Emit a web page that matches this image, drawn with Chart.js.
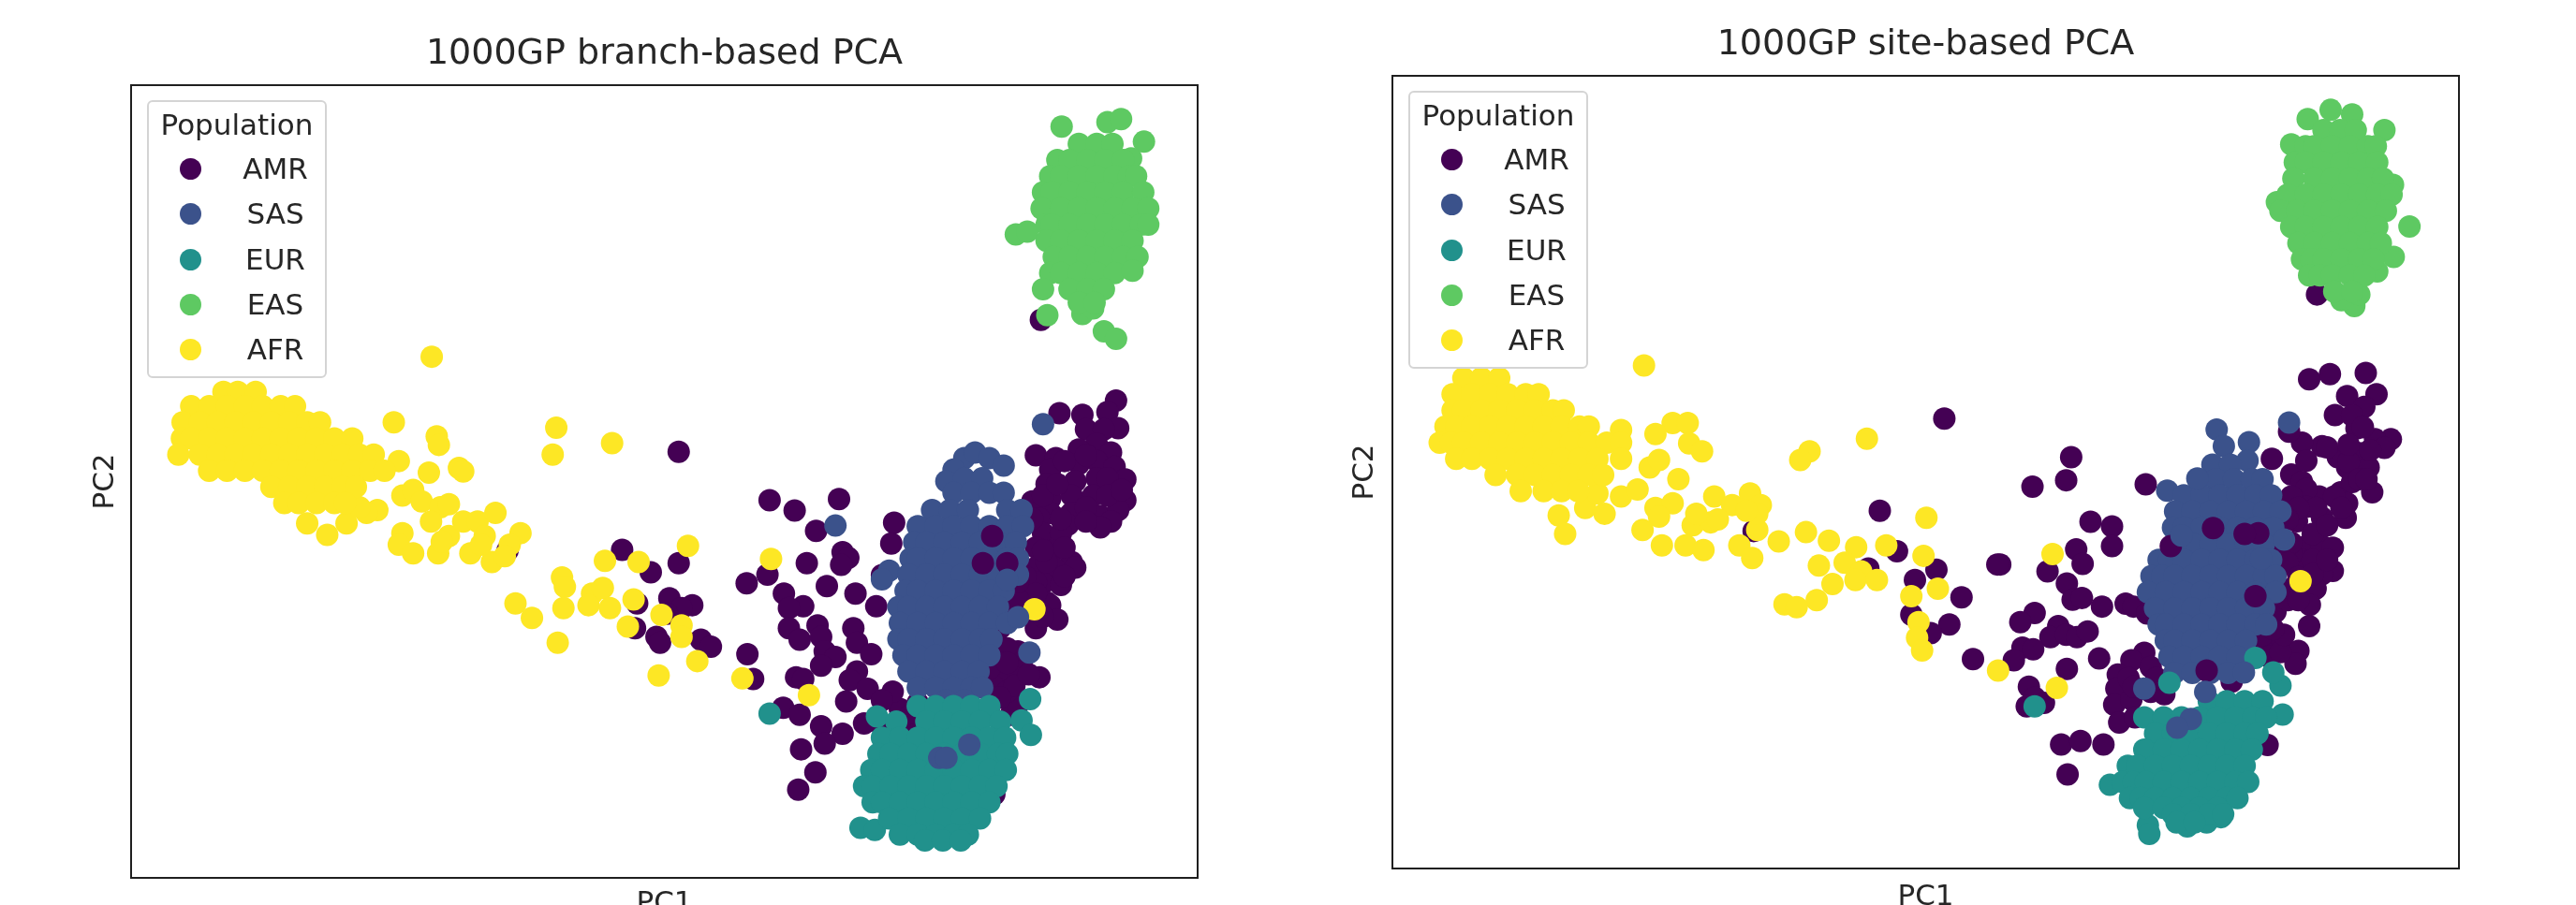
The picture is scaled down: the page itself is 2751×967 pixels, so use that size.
<!DOCTYPE html>
<html lang="en">
<head>
<meta charset="UTF-8">
<title>1000GP PCA</title>
<script src="https://cdn.jsdelivr.net/npm/chart.js"></script>
<style>
    html, body { margin: 0; background: #fff; width: 2751px; height: 967px; overflow: hidden; }
    canvas { position: absolute; top: 0; filter: blur(0.7px); }
    #chartA { left: 0; }
    #chartB { left: 1375px; }
    .legend { position: absolute; width: 188px; height: 293px; background: rgba(255,255,255,0.85);
              border: 2px solid #d4d4d4; border-radius: 6px; font-family: "DejaVu Sans", sans-serif;
              font-size: 31px; color: #262626; line-height: 36px; filter: blur(0.5px); }
    .legend div { position: absolute; white-space: nowrap; }
    .legend .name { width: 100px; left: 85px; text-align: center; }
    .legend .dot { width: 23px; height: 23px; border-radius: 50%; left: 33px; }
    .legend .head { left: 0; width: 188px; text-align: center; top: 6px; }
</style>
</head>
<body>
<canvas id="chartA" width="1419" height="967"></canvas>
<canvas id="chartB" width="1363" height="967"></canvas>
<div class="legend" id="legendA" style="left:157px;top:107px"></div>
<div class="legend" id="legendB" style="left:1504px;top:97px"></div>
<script>
const categories = ['AMR', 'SAS', 'EUR', 'EAS', 'AFR'];
const colors = ['#440154', '#3b528b', '#21918c', '#5ec962', '#fde725'];

// values, PC axes have no ticks so units are arbitrary
const branchAMR = [
  [1402,695],[1390,715],[1323,717],[1355,720],[1405,743],[1360,745],[1385,745],[1375,770],[1350,780],[1395,785],
  [1290,790],[1318,795],[1350,805],[1310,815],[1375,800],[1400,810],[1415,832],[1375,830],[1345,835],[1305,840],
  [1285,870],[1310,865],[1340,860],[1370,860],[1415,868],[1380,895],[1405,885],[1340,890],[1310,890],[1295,900],
  [1335,910],[1300,925],[1325,925],[1290,950],[1315,955],[1340,975],[1290,985],[1315,985],[1345,985],[1300,1012],
  [1325,1015],[1280,1040],[1305,1045],[1310,1050],[1265,1060],[1320,1075],[1290,1090],[1265,1130],[1250,1125],
  [1240,1150],[1270,1150],[1295,1175],[1245,1175],[1230,1190],[1265,1165],[1255,1240],[1265,1222],[1250,1200],
  [1232,1378],[1240,1090],[1230,1050],[1297,555],
  [1330,800],[1360,790],[1390,830],[1390,860],[1360,880],[1325,900],[1300,860],[1320,840],[1285,900],[1330,950],
  [1305,975],[1300,955],[1330,1000],[1290,1010],[1275,1000],[1290,1030],[1395,905],[1380,915],[1410,850],[1360,905],
  [1265,1040],[1265,1010],[1300,1070],[1225,1160],[1250,1150],[1215,1190],[1235,1210],[1260,1190],[1225,1225],
  [1240,1210],[1280,1170],[1075,1260],[1100,1230],[1100,1260],[1125,1220],[1120,1250],
  [791,784],[918,868],[1015,866],[953,886],[983,921],[1092,907],[1088,943],[1020,958],[1028,968],[1018,980],
  [970,977],[915,997],[886,1012],[1075,998],[998,1017],[938,1030],[1038,1030],[965,1052],[945,1055],[1067,1052],
  [945,1090],[985,1085],[1035,1090],[960,1110],[990,1105],[1040,1115],[1060,1135],[995,1130],[1010,1140],[990,1155],
  [1040,1165],[1030,1180],[955,1175],[965,1178],[1055,1195],[1090,1200],[1075,1215],[1025,1217],[937,1228],[960,1240],
  [990,1260],[1020,1273],[1050,1255],[995,1290],[962,1300],[982,1340],[958,1370],[1115,1240],[1120,1275],[1080,1265],
  [712,954],[791,977],[752,993],[778,1038],[810,1050],[795,1055],[775,1065],[733,1047],[730,1090],[760,1105],
  [765,1115],[822,1110],[836,1122],[887,1135],[895,1178],[552,955]
];
const branchSAS = [
  [1300,736],[1010,912],[1085,990],[1075,1005],
  [1190,795],[1205,785],[1225,795],[1245,808],[1175,815],[1165,835],[1190,830],[1215,830],
  [1175,855],[1200,855],[1225,855],[1245,855],
  [1145,885],[1170,885],[1195,885],[1250,885],[1270,885],
  [1125,913],[1150,913],[1175,913],[1200,913],[1225,913],[1250,913],[1272,913],
  [1120,941],[1137,941],[1162,941],[1187,941],[1212,941],[1237,941],[1262,941],
  [1115,969],[1125,969],[1150,969],[1175,969],[1200,969],[1225,969],[1250,969],[1265,969],
  [1112,997],[1137,997],[1162,997],[1187,997],[1212,997],[1237,997],[1265,997],
  [1108,1025],[1125,1025],[1150,1025],[1175,1025],[1200,1025],[1225,1025],[1245,1025],
  [1098,1053],[1112,1053],[1137,1053],[1162,1053],[1187,1053],[1212,1053],[1237,1053],
  [1100,1081],[1125,1081],[1150,1081],[1175,1081],[1200,1081],[1225,1081],[1250,1081],
  [1098,1109],[1112,1109],[1137,1109],[1162,1109],[1187,1109],[1212,1109],[1228,1109],
  [1105,1137],[1125,1137],[1150,1137],[1175,1137],[1200,1137],[1225,1137],
  [1112,1165],[1137,1165],[1162,1165],[1187,1165],[1210,1165],
  [1125,1193],[1150,1193],[1175,1193],[1200,1193],[1215,1193],[1165,1215],[1190,1215]
];
const branchEUR = [
  [918,1238],[1068,1243],[1282,1213],[1270,1250],[1283,1275],[1045,1436],[1065,1440],
  [1125,1225],[1150,1225],[1175,1225],[1200,1225],[1225,1225],
  [1095,1252],[1137,1252],[1162,1252],[1187,1252],[1212,1252],[1240,1252],
  [1075,1280],[1100,1280],[1125,1280],[1150,1280],[1175,1280],[1200,1280],[1225,1280],[1247,1280],
  [1070,1308],[1087,1308],[1112,1308],[1137,1308],[1162,1308],[1187,1308],[1212,1308],[1237,1308],[1250,1308],
  [1060,1336],[1075,1336],[1100,1336],[1125,1336],[1150,1336],[1175,1336],[1200,1336],[1225,1336],[1248,1336],
  [1050,1364],[1062,1364],[1087,1364],[1112,1364],[1137,1364],[1162,1364],[1187,1364],[1212,1364],[1235,1364],
  [1062,1392],[1075,1392],[1100,1392],[1125,1392],[1150,1392],[1175,1392],[1200,1392],[1225,1392],
  [1085,1420],[1112,1420],[1137,1420],[1162,1420],[1187,1420],[1212,1420],
  [1100,1448],[1125,1448],[1150,1448],[1175,1448],[1195,1448],[1135,1458],[1160,1458],[1185,1458]
];
const branchEAS = [
  [1326,220],[1390,212],[1409,207],[1441,246],[1423,275],[1262,407],[1278,402],[1306,547],[1355,545],[1385,575],
  [1402,588],[1370,535],
  [1350,250],[1375,250],[1397,250],
  [1320,278],[1337,278],[1362,278],[1387,278],[1412,278],
  [1310,306],[1325,306],[1350,306],[1375,306],[1400,306],[1420,306],[1430,306],
  [1300,334],[1312,334],[1337,334],[1362,334],[1387,334],[1412,334],[1440,334],
  [1298,362],[1325,362],[1350,362],[1375,362],[1400,362],[1425,362],[1447,362],
  [1305,390],[1312,390],[1337,390],[1362,390],[1387,390],[1412,390],[1437,390],[1447,390],
  [1305,418],[1325,418],[1350,418],[1375,418],[1400,418],[1425,418],
  [1315,446],[1337,446],[1362,446],[1387,446],[1412,446],[1432,446],
  [1310,474],[1325,474],[1350,474],[1375,474],[1400,474],[1425,470],
  [1300,502],[1337,502],[1362,502],[1385,502],
  [1350,525],[1372,525]
];
const branchAFR = [
  [446,619],[393,733],[453,757],[456,772],[620,742],[698,769],[615,789],[442,820],[484,812],[490,818],
  [400,800],[370,885],[355,890],[405,860],[420,850],[432,870],[405,925],[400,945],[420,960],[458,880],
  [470,875],[445,905],[470,930],[455,960],[460,940],[490,905],[510,905],[535,890],[570,925],[555,945],
  [520,930],[500,960],[530,975],[548,965],[515,945],[563,1047],[586,1072],[628,1002],[632,1018],[630,1055],
  [622,1115],[688,973],[735,975],[804,947],[920,970],[670,1030],[665,1050],[685,1020],[695,1055],[728,1040],
  [767,1067],[720,1087],[795,1085],[795,1105],[817,1147],[763,1172],[880,1177],[973,1206],[1288,1057],
  [300,928],[272,908],[327,908],[345,880],
  [155,680],[175,680],[200,680],
  [110,705],[135,705],[160,705],[185,705],[210,705],[235,705],[255,705],
  [98,733],[122,733],[147,733],[172,733],[197,733],[222,733],[247,733],[272,733],[290,733],
  [97,761],[110,761],[135,761],[160,761],[185,761],[210,761],[235,761],[260,761],[285,761],[310,761],[335,761],
  [92,789],[122,789],[147,789],[172,789],[197,789],[222,789],[247,789],[272,789],[297,789],[322,789],[345,789],[365,789],
  [135,817],[160,817],[185,817],[210,817],[235,817],[260,817],[285,817],[310,817],[335,817],[360,817],[380,817],
  [222,845],[247,845],[272,845],[297,845],[322,845],[340,845],
  [240,873],[260,873],[285,873],[310,873],[325,873]
];
const branchAMRTop = [[1229,930],[1216,977],[1250,977]];
const branchSASTop = [[1250,1006],[1265,1071],[1281,1132],[1155,1315],[1165,1315],[1197,1292]];

const siteAMR = [
  [1394,646],[1344,648],[1315,657],[1409,683],[1368,686],[1351,719],[1392,705],[1381,742],[1429,761],[1407,761],
  [1420,776],[1385,785],[1333,773],[1305,767],[1287,748],[1263,795],[1398,810],[1368,810],[1355,792],[1290,822],
  [1311,798],[1403,853],[1359,853],[1329,860],[1340,775],[1370,800],[1375,835],[1305,835],[1311,847],[1311,878],
  [1333,897],[1366,897],[1368,872],[1298,903],[1311,946],[1333,946],[1348,949],[1307,971],[1348,989],[1333,995],
  [1324,1020],[1316,1048],[1315,1085],[1290,1020],[1276,961],[1270,990],[1268,1060],[1255,1082],[1266,1113],
  [1250,1119],[1277,1107],[1300,1128],[1296,1150],[1259,1138],[1326,510],[1290,860],[1320,925],[1290,960],
  [1375,720],[1390,740],[1400,780],[1370,770],[1385,830],[1395,830],[1350,860],[1325,880],[1300,880],[1285,900],
  [1340,910],[1360,880],[1290,940],[1320,970],[1285,975],[1300,1000],[1320,995],[1340,970],[1285,1040],[1300,1040],
  [1260,1030],[1275,1130],[1280,1100],[1250,1100],[1265,1090],[1235,1140],
  [1085,1131],[1067,1144],[1048,1169],[1094,1156],[1046,1193],[1063,1175],[1102,1175],[1043,1221],[1067,1212],
  [1094,1199],[1050,1252],[1113,1203],[1072,1243],[1207,1181],[1257,1291],[1070,1190],
  [969,1290],[996,1284],[1028,1290],[978,1342],
  [983,792],[976,832],[929,843],[1087,839],[1010,904],[1040,912],[1040,946],[990,952],[999,977],[950,990],
  [884,978],[880,978],[977,1011],[985,1039],[998,1036],[1026,1051],[1059,1046],[1070,1051],[1089,1063],[932,1062],
  [912,1078],[965,1085],[954,1104],[976,1100],[991,1104],[1006,1094],[915,1122],[930,1125],[903,1144],[1022,1141],
  [977,1159],[924,1190],[932,1209],[945,1218],[921,1224],
  [806,725],[716,885],[540,920],[700,985],[740,955],[795,987],[765,1005],[760,1065],[813,1082],[787,1097],[830,1035],[846,1142]
];
const siteSAS = [
  [1186,744],[1196,773],[1231,766],[1229,798],[1117,850],[1287,732],
  [1180,805],[1205,805],[1160,830],[1185,830],[1210,830],[1235,830],[1250,830],
  [1140,858],[1165,858],[1190,858],[1215,858],[1240,858],[1262,858],
  [1128,886],[1152,886],[1177,886],[1202,886],[1227,886],[1252,886],[1275,886],
  [1125,914],[1140,914],[1165,914],[1190,914],[1215,914],[1240,914],[1265,914],
  [1127,942],[1152,942],[1177,942],[1202,942],[1227,942],[1252,942],[1280,935],
  [1105,970],[1120,970],[1140,970],[1165,970],[1190,970],[1215,970],[1240,970],[1262,970],
  [1095,998],[1110,998],[1127,998],[1152,998],[1177,998],[1202,998],[1227,998],[1252,998],[1268,998],
  [1090,1026],[1115,1026],[1140,1026],[1165,1026],[1190,1026],[1215,1026],[1240,1026],[1268,1026],
  [1100,1054],[1127,1054],[1152,1054],[1177,1054],[1202,1054],[1227,1054],[1252,1054],
  [1105,1082],[1115,1082],[1140,1082],[1165,1082],[1190,1082],[1215,1082],[1240,1082],[1255,1082],
  [1115,1110],[1127,1110],[1152,1110],[1177,1110],[1202,1110],[1227,1110],
  [1120,1138],[1140,1138],[1165,1138],[1190,1138],[1215,1138],
  [1127,1166],[1152,1166],[1177,1166],[1202,1166]
];
const siteEUR = [
  [932,1224],[1120,1183],[1037,1360],[1090,1430],[1092,1445],[1145,1432],[1172,1425],[1192,1416],[1275,1188],[1278,1238],
  [1265,1165],[1240,1140],
  [1175,1215],[1200,1215],[1225,1215],[1250,1215],
  [1085,1243],[1112,1243],[1137,1243],[1162,1243],[1187,1243],[1212,1243],[1237,1243],[1255,1243],
  [1100,1271],[1125,1271],[1150,1271],[1175,1271],[1200,1271],[1225,1271],[1243,1271],
  [1085,1299],[1112,1299],[1137,1299],[1162,1299],[1187,1299],[1212,1299],[1235,1299],
  [1062,1327],[1075,1327],[1100,1327],[1125,1327],[1150,1327],[1175,1327],[1200,1327],[1225,1327],
  [1055,1355],[1070,1355],[1087,1355],[1112,1355],[1137,1355],[1162,1355],[1187,1355],[1212,1355],[1230,1355],
  [1065,1383],[1080,1383],[1100,1383],[1125,1383],[1150,1383],[1175,1383],[1200,1383],[1215,1383],
  [1085,1400],[1112,1400],[1137,1400],[1162,1400],[1187,1400],
  [1125,1411],[1150,1411],[1175,1411],[1195,1411],[1130,1425],[1155,1425]
];
const siteEAS = [
  [1345,190],[1375,198],[1313,206],[1420,225],[1290,250],[1455,392],[1433,445],[1270,350],[1432,320],[1410,470],
  [1378,530],[1360,520],[1385,510],
  [1335,225],[1358,225],[1380,225],
  [1310,253],[1322,253],[1347,253],[1372,253],[1397,253],[1408,253],
  [1295,281],[1310,281],[1335,281],[1360,281],[1385,281],[1410,281],
  [1293,309],[1322,309],[1347,309],[1372,309],[1397,309],[1418,309],
  [1285,337],[1310,337],[1335,337],[1360,337],[1385,337],[1410,337],[1430,337],
  [1275,365],[1298,365],[1322,365],[1347,365],[1372,365],[1397,365],[1422,365],
  [1290,393],[1310,393],[1335,393],[1360,393],[1385,393],[1410,393],
  [1300,421],[1322,421],[1347,421],[1372,421],[1397,421],[1415,421],
  [1305,449],[1318,449],[1335,449],[1360,449],[1385,449],[1405,449],
  [1315,477],[1330,477],[1347,477],[1372,477],[1392,477],[1350,505],[1375,505]
];
const siteAFR = [
  [387,633],[427,733],[448,733],[403,752],[450,768],[468,782],[395,810],[408,797],[435,830],[618,782],
  [605,797],[698,760],[355,860],[378,848],[403,880],[427,872],[408,895],[268,893],[277,925],[305,880],
  [332,890],[322,855],[385,918],[412,945],[455,910],[445,945],[470,953],[480,905],[485,860],[510,875],
  [535,855],[550,875],[545,918],[520,945],[538,967],[575,938],[613,922],[645,937],[683,948],[725,945],
  [781,897],[777,963],[631,980],[667,975],[690,990],[650,1012],[682,1005],[712,1005],[797,1020],[760,1033],
  [628,1040],[583,1047],[600,1052],[770,1078],[768,1105],[775,1127],[957,960],[881,1162],[963,1192],[1303,1007],
  [490,900],[460,890],[545,890],[530,885],
  [135,655],[160,655],[185,655],
  [120,683],[147,683],[172,683],[197,683],[222,683],[240,683],
  [120,711],[135,711],[160,711],[185,711],[210,711],[235,711],[260,711],[275,711],
  [110,739],[125,739],[147,739],[172,739],[197,739],[222,739],[247,739],[272,739],[297,739],[310,739],[355,745],
  [102,767],[118,767],[135,767],[160,767],[185,767],[210,767],[235,767],[260,767],[285,767],[310,767],[335,767],[355,767],
  [125,795],[147,795],[172,795],[197,795],[222,795],[247,795],[272,795],[297,795],[322,795],[355,795],
  [180,823],[210,823],[235,823],[260,823],[285,823],[310,823],[330,823],
  [215,851],[247,851],[272,851],[295,851]
];
const siteAMRTop = [[1244,924],[1225,925],[1181,915],[1122,946],[1240,1033],[1172,1162]];
const siteSASTop = [[1159,829],[1248,968],[1137,928],[1085,1193],[1170,1199],[1150,1246],[1131,1261],[1224,1165]];

const markerRadius = 12;
const toPoints = pairs => pairs.map(p => ({x: p[0], y: p[1]}));

const framePlugin = {
    id: 'frame',
    afterDraw(chart) {
        const a = chart.chartArea;
        const ctx = chart.ctx;
        ctx.save();
        ctx.strokeStyle = '#1f1f1f';
        ctx.lineWidth = 2;
        ctx.strokeRect(a.left, a.top, a.right - a.left, a.bottom - a.top);
        ctx.restore();
    }
};

function drawPanel(id, cfg) {
    // later entry = drawn later, chart.js draws highest order first
    const series = [cfg.amr, cfg.sas, cfg.eur, cfg.eas, cfg.afr];
    const datasets = series.map((pts, i) => ({
        label: categories[i], data: toPoints(pts), backgroundColor: colors[i],
        pointRadius: markerRadius, pointHoverRadius: markerRadius, borderWidth: 0, order: 10 - i
    }));
    datasets.push({label: 'AMR', data: toPoints(cfg.amrTop), backgroundColor: colors[0], pointRadius: markerRadius, borderWidth: 0, order: 2});
    datasets.push({label: 'SAS', data: toPoints(cfg.sasTop), backgroundColor: colors[1], pointRadius: markerRadius, borderWidth: 0, order: 1});
    new Chart(document.getElementById(id), {
        type: 'scatter',
        data: {datasets: datasets},
        plugins: [framePlugin],
        options: {
            responsive: false,
            animation: false,
            layout: {padding: {right: cfg.padRight}},
            plugins: {
                legend: {display: false},
                tooltip: {enabled: false},
                title: {
                    display: true, text: cfg.title, color: '#262626', fullSize: false,
                    font: {family: 'DejaVu Sans', size: 38, weight: 'normal'},
                    padding: {top: cfg.titleTop, bottom: cfg.titleBottom}
                }
            },
            scales: {
                x: {
                    min: cfg.xMin, max: cfg.xMax,
                    grid: {display: false}, border: {display: false}, ticks: {display: false},
                    title: {display: true, text: 'PC1', color: '#262626',
                        font: {family: 'DejaVu Sans', size: 31, lineHeight: 1},
                        padding: {top: 0, bottom: cfg.xTitlePad}},
                    afterFit(s) { s.height = cfg.xAxisHeight; }
                },
                y: {
                    min: cfg.yMin, max: cfg.yMax, reverse: true,
                    grid: {display: false}, border: {display: false}, ticks: {display: false},
                    title: {display: true, text: 'PC2', color: '#262626',
                        font: {family: 'DejaVu Sans', size: 31, lineHeight: 1},
                        padding: {top: cfg.yTitlePad, bottom: 0}},
                    afterFit(s) { s.width = cfg.yAxisWidth; }
                }
            }
        }
    });
}

function drawLegend(id) {
    const box = document.getElementById(id);
    let html = '<div class="head">Population</div>';
    categories.forEach((name, i) => {
        const top = 60 + i * 48.25;
        html += `<div class="dot" style="top:${top}px;background:${colors[i]}"></div>`;
        html += `<div class="name" style="top:${top - 7}px">${name}</div>`;
    });
    box.innerHTML = html;
}

drawPanel('chartA', {
    title: '1000GP branch-based PCA', titleTop: 35, titleBottom: 10.4, padRight: 140,
    xMin: 26, xMax: 1516, yMin: 148, yMax: 1523,
    xAxisHeight: 29, yAxisWidth: 140, xTitlePad: -14, yTitlePad: 97,
    amr: branchAMR, sas: branchSAS, eur: branchEUR, eas: branchEAS, afr: branchAFR,
    amrTop: branchAMRTop, sasTop: branchSASTop
});
drawPanel('chartB', {
    title: '1000GP site-based PCA', titleTop: 25, titleBottom: 10.4, padRight: 112,
    xMin: 36, xMax: 1524, yMin: 131, yMax: 1505,
    xAxisHeight: 39, yAxisWidth: 112, xTitlePad: -7, yTitlePad: 67,
    amr: siteAMR, sas: siteSAS, eur: siteEUR, eas: siteEAS, afr: siteAFR,
    amrTop: siteAMRTop, sasTop: siteSASTop
});
drawLegend('legendA');
drawLegend('legendB');
</script>
</body>
</html>
